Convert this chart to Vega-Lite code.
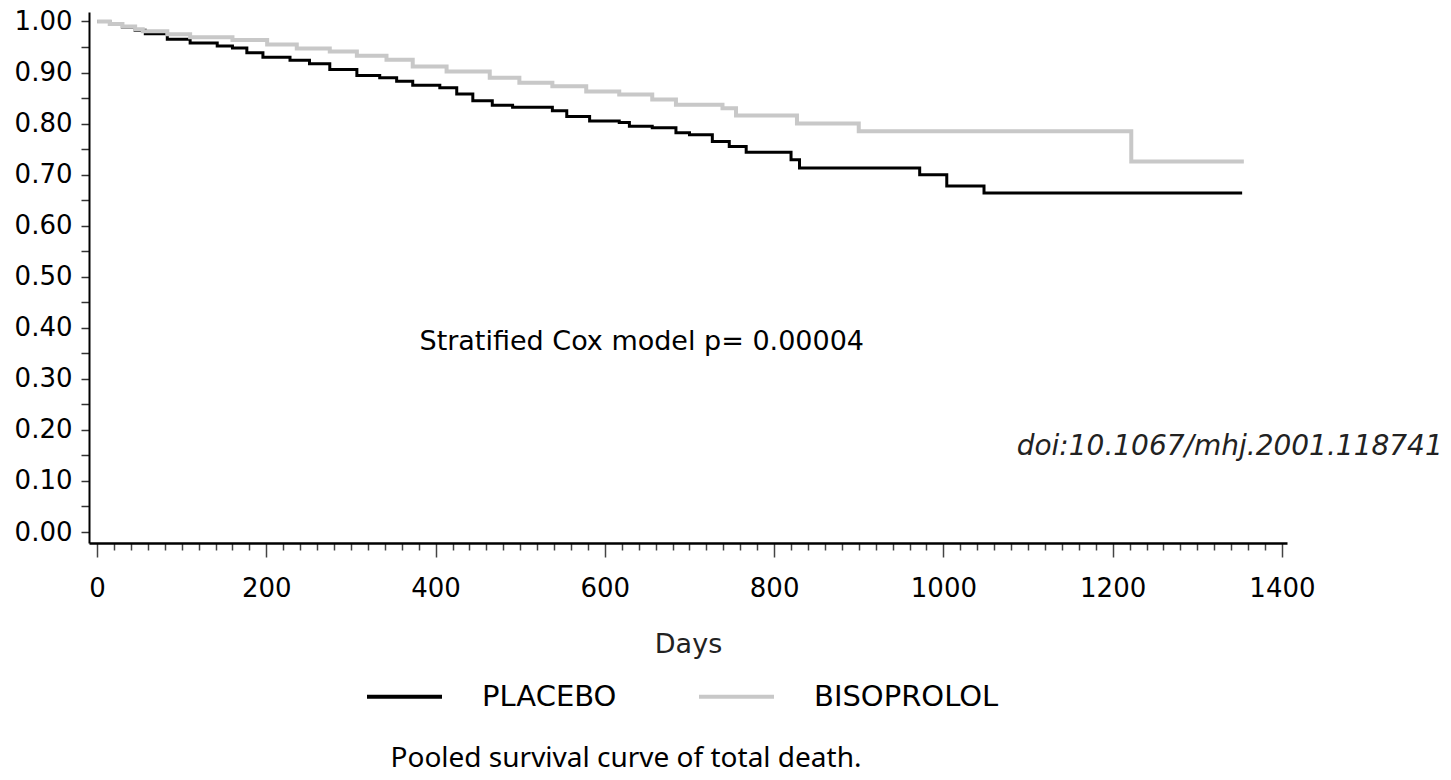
{
  "$schema": "https://vega.github.io/schema/vega-lite/v6.json",
  "width": 1198,
  "height": 531,
  "autosize": {"type": "none"},
  "padding": {"left": 89, "top": 12, "right": 164, "bottom": 237},
  "background": "white",
  "config": {"view": {"stroke": null}},
  "title": {
    "text": "Pooled survival curve of total death.",
    "orient": "bottom",
    "anchor": "middle",
    "dx": -62,
    "offset": 33,
    "font": "Noto Sans",
    "fontSize": 28,
    "fontWeight": "normal",
    "color": "black"
  },
  "datasets": {
    "curves": [
      {"group": "PLACEBO", "day": 0, "surv": 1.0},
      {"group": "PLACEBO", "day": 15, "surv": 0.995},
      {"group": "PLACEBO", "day": 30, "surv": 0.989},
      {"group": "PLACEBO", "day": 45, "surv": 0.983},
      {"group": "PLACEBO", "day": 57, "surv": 0.976},
      {"group": "PLACEBO", "day": 83, "surv": 0.965},
      {"group": "PLACEBO", "day": 110, "surv": 0.958},
      {"group": "PLACEBO", "day": 142, "surv": 0.952},
      {"group": "PLACEBO", "day": 160, "surv": 0.948},
      {"group": "PLACEBO", "day": 177, "surv": 0.939},
      {"group": "PLACEBO", "day": 196, "surv": 0.930},
      {"group": "PLACEBO", "day": 228, "surv": 0.924},
      {"group": "PLACEBO", "day": 251, "surv": 0.917},
      {"group": "PLACEBO", "day": 275, "surv": 0.906},
      {"group": "PLACEBO", "day": 307, "surv": 0.894},
      {"group": "PLACEBO", "day": 334, "surv": 0.890},
      {"group": "PLACEBO", "day": 354, "surv": 0.883},
      {"group": "PLACEBO", "day": 373, "surv": 0.875},
      {"group": "PLACEBO", "day": 405, "surv": 0.870},
      {"group": "PLACEBO", "day": 425, "surv": 0.858},
      {"group": "PLACEBO", "day": 444, "surv": 0.845},
      {"group": "PLACEBO", "day": 467, "surv": 0.836},
      {"group": "PLACEBO", "day": 491, "surv": 0.832},
      {"group": "PLACEBO", "day": 538, "surv": 0.825},
      {"group": "PLACEBO", "day": 555, "surv": 0.814},
      {"group": "PLACEBO", "day": 582, "surv": 0.805},
      {"group": "PLACEBO", "day": 617, "surv": 0.802},
      {"group": "PLACEBO", "day": 629, "surv": 0.795},
      {"group": "PLACEBO", "day": 656, "surv": 0.792},
      {"group": "PLACEBO", "day": 684, "surv": 0.782},
      {"group": "PLACEBO", "day": 700, "surv": 0.778},
      {"group": "PLACEBO", "day": 727, "surv": 0.765},
      {"group": "PLACEBO", "day": 747, "surv": 0.755},
      {"group": "PLACEBO", "day": 767, "surv": 0.744},
      {"group": "PLACEBO", "day": 820, "surv": 0.729},
      {"group": "PLACEBO", "day": 830, "surv": 0.713},
      {"group": "PLACEBO", "day": 972, "surv": 0.700},
      {"group": "PLACEBO", "day": 1004, "surv": 0.678},
      {"group": "PLACEBO", "day": 1048, "surv": 0.664},
      {"group": "PLACEBO", "day": 1353, "surv": 0.664},
      {"group": "BISOPROLOL", "day": 0, "surv": 1.0},
      {"group": "BISOPROLOL", "day": 15, "surv": 0.995},
      {"group": "BISOPROLOL", "day": 30, "surv": 0.990},
      {"group": "BISOPROLOL", "day": 45, "surv": 0.985},
      {"group": "BISOPROLOL", "day": 54, "surv": 0.981},
      {"group": "BISOPROLOL", "day": 83, "surv": 0.975},
      {"group": "BISOPROLOL", "day": 110, "surv": 0.969},
      {"group": "BISOPROLOL", "day": 160, "surv": 0.964},
      {"group": "BISOPROLOL", "day": 201, "surv": 0.955},
      {"group": "BISOPROLOL", "day": 236, "surv": 0.947},
      {"group": "BISOPROLOL", "day": 275, "surv": 0.941},
      {"group": "BISOPROLOL", "day": 307, "surv": 0.933},
      {"group": "BISOPROLOL", "day": 342, "surv": 0.925},
      {"group": "BISOPROLOL", "day": 373, "surv": 0.912},
      {"group": "BISOPROLOL", "day": 413, "surv": 0.902},
      {"group": "BISOPROLOL", "day": 464, "surv": 0.890},
      {"group": "BISOPROLOL", "day": 499, "surv": 0.880},
      {"group": "BISOPROLOL", "day": 538, "surv": 0.873},
      {"group": "BISOPROLOL", "day": 578, "surv": 0.863},
      {"group": "BISOPROLOL", "day": 617, "surv": 0.857},
      {"group": "BISOPROLOL", "day": 656, "surv": 0.847},
      {"group": "BISOPROLOL", "day": 684, "surv": 0.837},
      {"group": "BISOPROLOL", "day": 739, "surv": 0.830},
      {"group": "BISOPROLOL", "day": 755, "surv": 0.816},
      {"group": "BISOPROLOL", "day": 827, "surv": 0.800},
      {"group": "BISOPROLOL", "day": 900, "surv": 0.785},
      {"group": "BISOPROLOL", "day": 1222, "surv": 0.726},
      {"group": "BISOPROLOL", "day": 1355, "surv": 0.726}
    ],
    "notes": [
      {"kind": "stat", "label": "Stratified Cox model p= 0.00004", "day": 381, "surv": 0.3725},
      {"kind": "doi", "label": "doi:10.1067/mhj.2001.118741", "day": 1590, "surv": 0.167}
    ]
  },
  "encoding": {
    "x": {
      "field": "day",
      "type": "quantitative",
      "scale": {"domain": [-9.5, 1406], "nice": false, "zero": false},
      "title": "Days",
      "axis": {
        "values": [0,20,40,60,80,100,120,140,160,180,200,220,240,260,280,300,320,340,360,380,400,420,440,460,480,500,520,540,560,580,600,620,640,660,680,700,720,740,760,780,800,820,840,860,880,900,920,940,960,980,1000,1020,1040,1060,1080,1100,1120,1140,1160,1180,1200,1220,1240,1260,1280,1300,1320,1340,1360,1380,1400],
        "labelExpr": "datum.value % 200 === 0 ? format(datum.value, 'd') : ''",
        "tickSize": {"condition": {"test": "datum.value % 200 === 0", "value": 14}, "value": 7},
        "tickColor": "#444444",
        "tickWidth": 1.5,
        "grid": false,
        "domainColor": "black",
        "domainWidth": 2.5,
        "labelFont": "DejaVu Sans",
        "labelFontSize": 26,
        "labelColor": "black",
        "labelPadding": 18,
        "labelOverlap": false,
        "labelFlush": false,
        "labelBound": false,
        "titleFont": "DejaVu Sans",
        "titleFontSize": 27,
        "titleFontWeight": "normal",
        "titleColor": "#222222",
        "titlePadding": 30
      }
    },
    "y": {
      "field": "surv",
      "type": "quantitative",
      "scale": {"domain": [-0.0215, 1.0186], "nice": false, "zero": false},
      "title": null,
      "axis": {
        "values": [0,0.05,0.1,0.15,0.2,0.25,0.3,0.35,0.4,0.45,0.5,0.55,0.6,0.65,0.7,0.75,0.8,0.85,0.9,0.95,1.0],
        "labelExpr": "round(datum.value * 100) % 10 === 0 ? format(datum.value, '.2f') : ''",
        "tickSize": 8,
        "tickColor": "#333333",
        "tickWidth": 1.5,
        "grid": false,
        "domainColor": "black",
        "domainWidth": 2,
        "labelFont": "DejaVu Sans",
        "labelFontSize": 26,
        "labelColor": "black",
        "labelPadding": 9,
        "labelOverlap": false,
        "labelFlush": false,
        "labelBound": false
      }
    }
  },
  "layer": [
    {
      "data": {"name": "curves"},
      "transform": [{"filter": "datum.group === 'PLACEBO'"}],
      "mark": {"type": "line", "interpolate": "step-after", "strokeWidth": 3},
      "encoding": {
        "color": {
          "field": "group",
          "type": "nominal",
          "scale": {"domain": ["PLACEBO", "BISOPROLOL"], "range": ["#000000", "#c8c8c8"]},
          "legend": {
            "orient": "none",
            "legendX": 276,
            "legendY": 645,
            "direction": "horizontal",
            "title": null,
            "symbolType": "stroke",
            "symbolSize": 5625,
            "symbolStrokeWidth": 4,
            "symbolOpacity": 1,
            "labelFont": "DejaVu Sans",
            "labelFontSize": 29,
            "labelColor": "black",
            "labelLimit": 0,
            "labelOffset": 38,
            "columnPadding": 74
          }
        }
      }
    },
    {
      "data": {"name": "curves"},
      "transform": [{"filter": "datum.group === 'BISOPROLOL'"}],
      "mark": {"type": "line", "interpolate": "step-after", "strokeWidth": 4},
      "encoding": {
        "color": {
          "field": "group",
          "type": "nominal",
          "scale": {"domain": ["PLACEBO", "BISOPROLOL"], "range": ["#000000", "#c8c8c8"]}
        }
      }
    },
    {
      "data": {"name": "notes"},
      "transform": [{"filter": "datum.kind === 'stat'"}],
      "mark": {"type": "text", "align": "left", "baseline": "middle", "font": "DejaVu Sans", "fontSize": 27, "color": "black"},
      "encoding": {"text": {"field": "label"}}
    },
    {
      "data": {"name": "notes"},
      "transform": [{"filter": "datum.kind === 'doi'"}],
      "mark": {"type": "text", "align": "right", "baseline": "middle", "font": "DejaVu Sans", "fontStyle": "italic", "fontSize": 28, "color": "#222222"},
      "encoding": {"text": {"field": "label"}}
    }
  ]
}
